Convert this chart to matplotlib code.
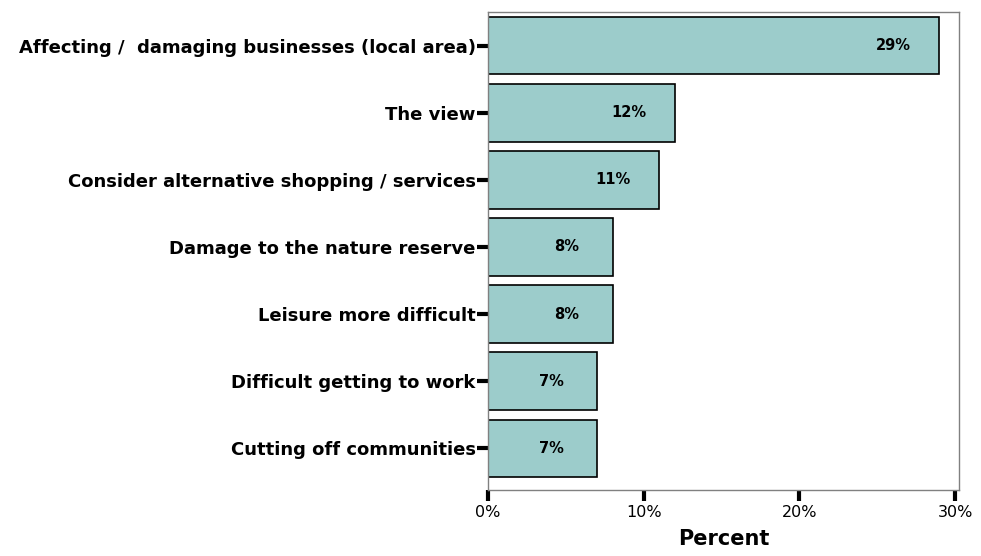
import matplotlib
matplotlib.use("Agg")
from matplotlib import pyplot as plt

plt.rcParams["font.family"] = ["DejaVu Sans"]

categories = [
    "Affecting /  damaging businesses (local area)",
    "The view",
    "Consider alternative shopping / services",
    "Damage to the nature reserve",
    "Leisure more difficult",
    "Difficult getting to work",
    "Cutting off communities",
]
values = [29, 12, 11, 8, 8, 7, 7]
xticks = [0, 10, 20, 30]
xtick_labels = ["0%", "10%", "20%", "30%"]

fig = plt.figure(figsize=(9.81, 5.56), dpi=100)
ax = fig.add_axes([0.4975, 0.1187, 0.48, 0.8597])

ypos = list(range(len(categories)))
ax.barh(ypos, values, height=0.86, color="#9ccccb", edgecolor="black", linewidth=1.2)

# value labels sit a little inside the end of each bar
for y, v in zip(ypos, values):
    ax.text(v - 2.95, y, f"{v}%", ha="center", va="center",
            fontsize=10.5, fontweight="bold")

ax.set_xlim(0, 30.25)
ax.set_ylim(6.62, -0.5)
ax.set_xticks(xticks)
ax.set_xticklabels(xtick_labels, fontsize=11.5)
ax.set_yticks(ypos)
ax.set_yticklabels(categories, fontsize=13, fontweight="bold")
ax.tick_params(axis="both", length=8, width=3, color="black")
ax.tick_params(axis="x", pad=3)
ax.tick_params(axis="y", pad=1)

for side in ["top", "right", "bottom", "left"]:
    ax.spines[side].set_color("#808080")
    ax.spines[side].set_linewidth(1)

ax.set_xlabel("Percent", fontsize=15, fontweight="bold", labelpad=6)

fig.savefig("out.png", dpi=100)
